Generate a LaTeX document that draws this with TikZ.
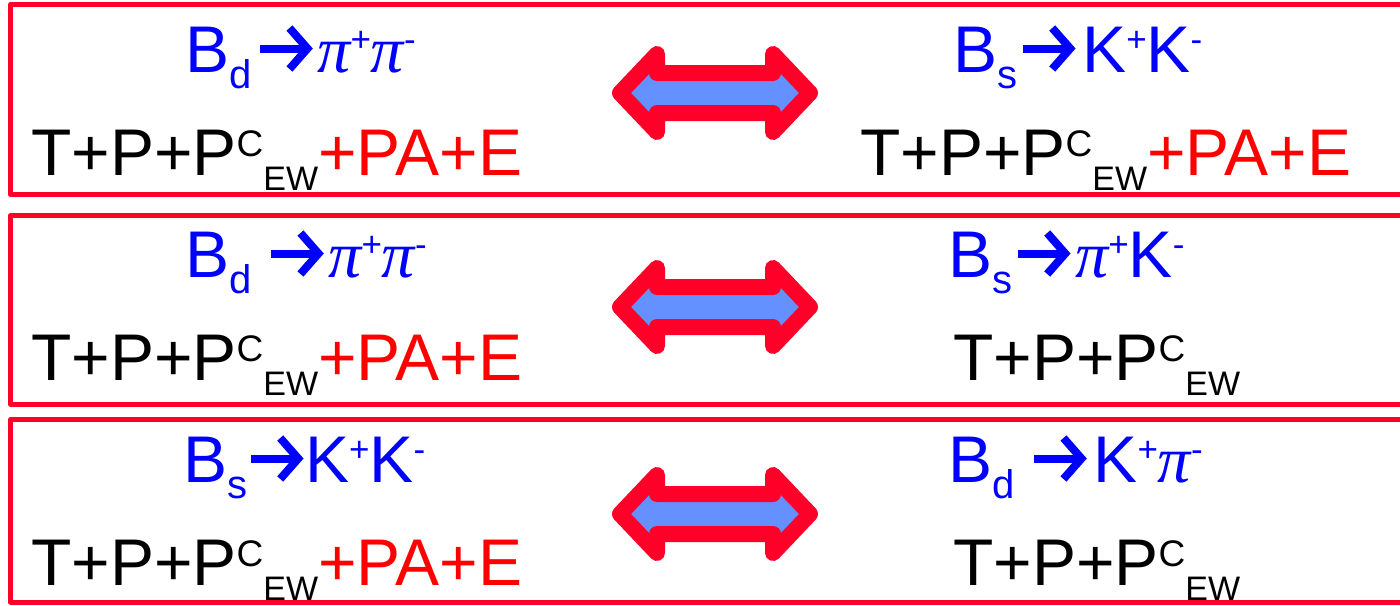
\documentclass[tikz,border=0pt]{standalone}
\usepackage{fontspec}
\setmainfont{Liberation Sans}
\newfontfamily\piserif{Liberation Serif}
\definecolor{boxred}{RGB}{255,0,40}
\definecolor{fillblue}{RGB}{100,145,255}
\definecolor{txtblue}{RGB}{0,0,255}
\definecolor{txtred}{RGB}{255,0,0}
\newcommand\mainsz{\fontsize{66}{70}\selectfont}
\newcommand\Pcew{P\raisebox{19pt}{\fontsize{37}{37}\selectfont C}\raisebox{-15pt}{\fontsize{34}{34}\selectfont EW}}
\newcommand\subsc[1]{\raisebox{-16pt}{\fontsize{40}{40}\selectfont #1}}
\newcommand\supsc[1]{\raisebox{21pt}{\fontsize{35}{35}\selectfont #1}}
\newcommand\ppi{{\piserif\itshape π}}
\newcommand\darr{\tikz[baseline=0pt,x=1pt,y=1pt]{\draw[txtblue,line width=8pt] (0,23.5)--(44,23.5); \draw[txtblue,line width=8pt,miter limit=10] (29,44)--(47,23.5)--(29,3);}}
\tikzset{
  rowbox/.style={draw=boxred,line width=5pt,line join=round},
  bigarrow/.style={draw=boxred,fill=fillblue,line width=16pt,line join=round},
  bluelbl/.style={anchor=base west,inner sep=0pt,text=txtblue,font=\mainsz},
  blacklbl/.style={anchor=base west,inner sep=0pt,text=black,font=\mainsz}
}
\begin{document}
\begin{tikzpicture}[x=1pt,y=-1pt]
\useasboundingbox (0,0) rectangle (1400,605);
% boxes
\draw[rowbox] (1420,4.5) -- (10.5,4.5) -- (10.5,194.5) -- (1420,194.5);
\draw[rowbox] (1420,215.5) -- (10.5,215.5) -- (10.5,404) -- (1420,404);
\draw[rowbox] (1420,419.5) -- (10.5,419.5) -- (10.5,602) -- (1420,602);
% row 1
\node[bluelbl] (l1a) at (185,72) {B\subsc{d}\hspace{5pt}\darr\hspace{6pt}\ppi\supsc{+}\ppi\supsc{-}};
\node[blacklbl] (l1b) at (31,175) {T+P+\Pcew\textcolor{txtred}{+PA+E}};
\node[bluelbl] (r1a) at (953,72) {B\subsc{s}\hspace{2pt}\darr\hspace{8pt}K\supsc{+}K\supsc{-}};
\node[blacklbl] (r1b) at (860,175) {T+P+\Pcew\textcolor{txtred}{+PA+E}};
% row 2
\node[bluelbl] (l2a) at (185,277) {B\subsc{d}\hspace{16pt}\darr\hspace{6pt}\ppi\supsc{+}\ppi\supsc{-}};
\node[blacklbl] (l2b) at (31,380) {T+P+\Pcew\textcolor{txtred}{+PA+E}};
\node[bluelbl] (r2a) at (948,277) {B\subsc{s}\hspace{2pt}\darr\hspace{6pt}\ppi\supsc{+}K\supsc{-}};
\node[blacklbl] (r2b) at (953,380) {T+P+\Pcew};
% row 3
\node[bluelbl] (l3a) at (183,482) {B\subsc{s}\hspace{0pt}\darr\hspace{3pt}K\supsc{+}K\supsc{-}};
\node[blacklbl] (l3b) at (31,585) {T+P+\Pcew\textcolor{txtred}{+PA+E}};
\node[bluelbl] (r3a) at (948,482) {B\subsc{d}\hspace{16pt}\darr\hspace{8pt}K\supsc{+}\ppi\supsc{-}};
\node[blacklbl] (r3b) at (953,585) {T+P+\Pcew};
% double arrows
\foreach \n/\cy in {a1/93,a2/307,a3/514}{
  \coordinate (\n) at (715,\cy);
  \draw[bigarrow] ([shift={(-95,0)}]\n) -- ([shift={(-58,-39)}]\n) -- ([shift={(-58,-20)}]\n) -- ([shift={(58,-20)}]\n) -- ([shift={(58,-39)}]\n) -- ([shift={(95,0)}]\n) -- ([shift={(58,39)}]\n) -- ([shift={(58,20)}]\n) -- ([shift={(-58,20)}]\n) -- ([shift={(-58,39)}]\n) -- cycle;
}
\end{tikzpicture}
\end{document}
